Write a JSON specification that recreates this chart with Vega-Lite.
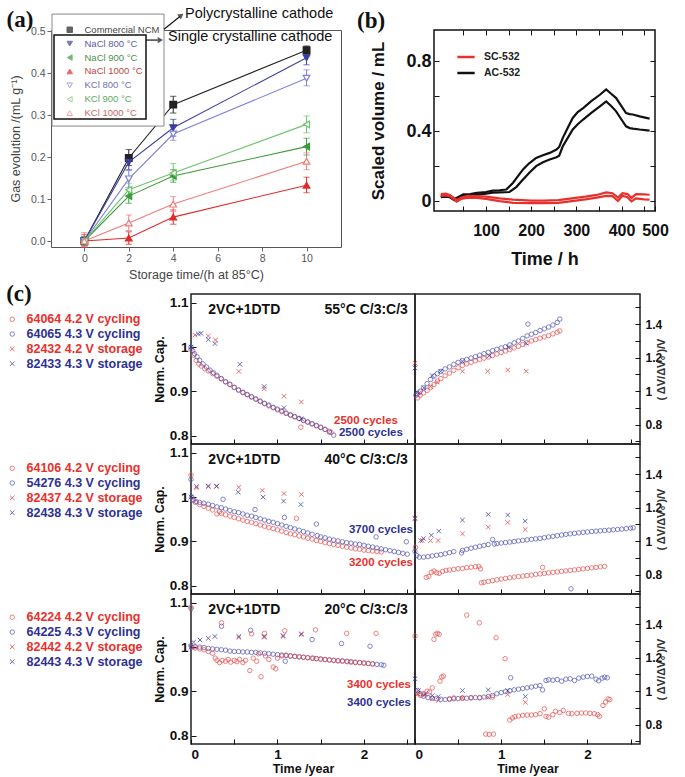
{
"$schema":"https://vega.github.io/schema/vega-lite/v6.json",
"padding":{"left":5,"top":5,"right":2,"bottom":2},
"background":"white",
"config":{"font":"Liberation Sans","view":{"stroke":"#222","strokeWidth":1.5},"axis":{"grid":false,"labelOverlap":false}},
"datasets":{
"a":[
{"series":"Commercial NCM","t":0,"v":0,"lo":-0.01,"hi":0.01},{"series":"Commercial NCM","t":2,"v":0.198,"lo":0.18,"hi":0.218},{"series":"Commercial NCM","t":4,"v":0.325,"lo":0.305,"hi":0.345},{"series":"Commercial NCM","t":10,"v":0.455,"lo":0.445,"hi":0.465},
{"series":"NaCl 800 °C","t":0,"v":0,"lo":-0.01,"hi":0.01},{"series":"NaCl 800 °C","t":2,"v":0.188,"lo":0.17,"hi":0.205},{"series":"NaCl 800 °C","t":4,"v":0.27,"lo":0.25,"hi":0.29},{"series":"NaCl 800 °C","t":10,"v":0.437,"lo":0.42,"hi":0.45},
{"series":"NaCl 900 °C","t":0,"v":0,"lo":-0.01,"hi":0.01},{"series":"NaCl 900 °C","t":2,"v":0.107,"lo":0.09,"hi":0.122},{"series":"NaCl 900 °C","t":4,"v":0.155,"lo":0.14,"hi":0.17},{"series":"NaCl 900 °C","t":10,"v":0.225,"lo":0.205,"hi":0.245},
{"series":"NaCl 1000 °C","t":0,"v":0,"lo":-0.014,"hi":0.015},{"series":"NaCl 1000 °C","t":2,"v":0.007,"lo":-0.008,"hi":0.022},{"series":"NaCl 1000 °C","t":4,"v":0.057,"lo":0.04,"hi":0.074},{"series":"NaCl 1000 °C","t":10,"v":0.133,"lo":0.115,"hi":0.152},
{"series":"KCl 800 °C","t":0,"v":0,"lo":-0.01,"hi":0.01},{"series":"KCl 800 °C","t":2,"v":0.148,"lo":0.128,"hi":0.168},{"series":"KCl 800 °C","t":4,"v":0.255,"lo":0.24,"hi":0.27},{"series":"KCl 800 °C","t":10,"v":0.388,"lo":0.37,"hi":0.408},
{"series":"KCl 900 °C","t":0,"v":0,"lo":-0.01,"hi":0.01},{"series":"KCl 900 °C","t":2,"v":0.122,"lo":0.105,"hi":0.138},{"series":"KCl 900 °C","t":4,"v":0.162,"lo":0.145,"hi":0.185},{"series":"KCl 900 °C","t":10,"v":0.278,"lo":0.258,"hi":0.298},
{"series":"KCl 1000 °C","t":0,"v":0,"lo":-0.014,"hi":0.02},{"series":"KCl 1000 °C","t":2,"v":0.043,"lo":0.025,"hi":0.062},{"series":"KCl 1000 °C","t":4,"v":0.088,"lo":0.07,"hi":0.106},{"series":"KCl 1000 °C","t":10,"v":0.19,"lo":0.17,"hi":0.21}
],
"b":[
{"name":"AC-532","k":"u","t":0,"v":0.03},{"name":"AC-532","k":"u","t":10,"v":0.033},{"name":"AC-532","k":"u","t":20,"v":0.03},{"name":"AC-532","k":"u","t":30,"v":0.012},{"name":"AC-532","k":"u","t":40,"v":0.025},{"name":"AC-532","k":"u","t":50,"v":0.038},{"name":"AC-532","k":"u","t":65,"v":0.04},{"name":"AC-532","k":"u","t":80,"v":0.047},{"name":"AC-532","k":"u","t":100,"v":0.052},{"name":"AC-532","k":"u","t":115,"v":0.06},{"name":"AC-532","k":"u","t":130,"v":0.062},{"name":"AC-532","k":"u","t":145,"v":0.066},{"name":"AC-532","k":"u","t":160,"v":0.105},{"name":"AC-532","k":"u","t":170,"v":0.14},{"name":"AC-532","k":"u","t":182,"v":0.181},{"name":"AC-532","k":"u","t":195,"v":0.215},{"name":"AC-532","k":"u","t":211,"v":0.247},{"name":"AC-532","k":"u","t":226,"v":0.262},{"name":"AC-532","k":"u","t":241,"v":0.276},{"name":"AC-532","k":"u","t":256,"v":0.295},{"name":"AC-532","k":"u","t":262,"v":0.31},{"name":"AC-532","k":"u","t":270,"v":0.362},{"name":"AC-532","k":"u","t":281,"v":0.42},{"name":"AC-532","k":"u","t":292,"v":0.476},{"name":"AC-532","k":"u","t":303,"v":0.51},{"name":"AC-532","k":"u","t":315,"v":0.533},{"name":"AC-532","k":"u","t":333,"v":0.572},{"name":"AC-532","k":"u","t":352,"v":0.609},{"name":"AC-532","k":"u","t":366,"v":0.64},{"name":"AC-532","k":"u","t":377,"v":0.615},{"name":"AC-532","k":"u","t":388,"v":0.59},{"name":"AC-532","k":"u","t":399,"v":0.547},{"name":"AC-532","k":"u","t":410,"v":0.504},{"name":"AC-532","k":"u","t":418,"v":0.498},{"name":"AC-532","k":"u","t":425,"v":0.496},{"name":"AC-532","k":"u","t":440,"v":0.485},{"name":"AC-532","k":"u","t":462,"v":0.472},
{"name":"AC-532","k":"l","t":0,"v":0.022},{"name":"AC-532","k":"l","t":10,"v":0.025},{"name":"AC-532","k":"l","t":20,"v":0.022},{"name":"AC-532","k":"l","t":30,"v":0.005},{"name":"AC-532","k":"l","t":40,"v":0.018},{"name":"AC-532","k":"l","t":50,"v":0.03},{"name":"AC-532","k":"l","t":65,"v":0.032},{"name":"AC-532","k":"l","t":80,"v":0.037},{"name":"AC-532","k":"l","t":100,"v":0.042},{"name":"AC-532","k":"l","t":115,"v":0.048},{"name":"AC-532","k":"l","t":130,"v":0.05},{"name":"AC-532","k":"l","t":152,"v":0.052},{"name":"AC-532","k":"l","t":167,"v":0.08},{"name":"AC-532","k":"l","t":182,"v":0.123},{"name":"AC-532","k":"l","t":197,"v":0.165},{"name":"AC-532","k":"l","t":211,"v":0.2},{"name":"AC-532","k":"l","t":226,"v":0.222},{"name":"AC-532","k":"l","t":241,"v":0.238},{"name":"AC-532","k":"l","t":256,"v":0.251},{"name":"AC-532","k":"l","t":262,"v":0.26},{"name":"AC-532","k":"l","t":270,"v":0.314},{"name":"AC-532","k":"l","t":281,"v":0.362},{"name":"AC-532","k":"l","t":292,"v":0.41},{"name":"AC-532","k":"l","t":303,"v":0.44},{"name":"AC-532","k":"l","t":315,"v":0.467},{"name":"AC-532","k":"l","t":333,"v":0.505},{"name":"AC-532","k":"l","t":352,"v":0.543},{"name":"AC-532","k":"l","t":366,"v":0.571},{"name":"AC-532","k":"l","t":377,"v":0.545},{"name":"AC-532","k":"l","t":388,"v":0.514},{"name":"AC-532","k":"l","t":399,"v":0.47},{"name":"AC-532","k":"l","t":410,"v":0.428},{"name":"AC-532","k":"l","t":418,"v":0.418},{"name":"AC-532","k":"l","t":425,"v":0.415},{"name":"AC-532","k":"l","t":440,"v":0.41},{"name":"AC-532","k":"l","t":462,"v":0.404},
{"name":"SC-532","k":"u","t":0,"v":0.04},{"name":"SC-532","k":"u","t":10,"v":0.042},{"name":"SC-532","k":"u","t":20,"v":0.035},{"name":"SC-532","k":"u","t":28,"v":0.02},{"name":"SC-532","k":"u","t":35,"v":0.005},{"name":"SC-532","k":"u","t":45,"v":0.02},{"name":"SC-532","k":"u","t":60,"v":0.03},{"name":"SC-532","k":"u","t":80,"v":0.028},{"name":"SC-532","k":"u","t":100,"v":0.025},{"name":"SC-532","k":"u","t":130,"v":0.015},{"name":"SC-532","k":"u","t":160,"v":0.008},{"name":"SC-532","k":"u","t":200,"v":0.003},{"name":"SC-532","k":"u","t":230,"v":0.002},{"name":"SC-532","k":"u","t":260,"v":0.005},{"name":"SC-532","k":"u","t":290,"v":0.015},{"name":"SC-532","k":"u","t":320,"v":0.025},{"name":"SC-532","k":"u","t":345,"v":0.035},{"name":"SC-532","k":"u","t":366,"v":0.05},{"name":"SC-532","k":"u","t":380,"v":0.045},{"name":"SC-532","k":"u","t":392,"v":0.02},{"name":"SC-532","k":"u","t":402,"v":0.045},{"name":"SC-532","k":"u","t":413,"v":0.04},{"name":"SC-532","k":"u","t":422,"v":0.018},{"name":"SC-532","k":"u","t":432,"v":0.04},{"name":"SC-532","k":"u","t":450,"v":0.038},{"name":"SC-532","k":"u","t":462,"v":0.036},
{"name":"SC-532","k":"l","t":0,"v":0.03},{"name":"SC-532","k":"l","t":10,"v":0.032},{"name":"SC-532","k":"l","t":20,"v":0.028},{"name":"SC-532","k":"l","t":28,"v":0.012},{"name":"SC-532","k":"l","t":35,"v":-0.003},{"name":"SC-532","k":"l","t":45,"v":0.012},{"name":"SC-532","k":"l","t":60,"v":0.02},{"name":"SC-532","k":"l","t":80,"v":0.018},{"name":"SC-532","k":"l","t":100,"v":0.012},{"name":"SC-532","k":"l","t":130,"v":0.0},{"name":"SC-532","k":"l","t":160,"v":-0.01},{"name":"SC-532","k":"l","t":200,"v":-0.012},{"name":"SC-532","k":"l","t":230,"v":-0.012},{"name":"SC-532","k":"l","t":260,"v":-0.01},{"name":"SC-532","k":"l","t":290,"v":0.0},{"name":"SC-532","k":"l","t":320,"v":0.01},{"name":"SC-532","k":"l","t":345,"v":0.02},{"name":"SC-532","k":"l","t":366,"v":0.03},{"name":"SC-532","k":"l","t":380,"v":0.028},{"name":"SC-532","k":"l","t":392,"v":0.0},{"name":"SC-532","k":"l","t":402,"v":0.03},{"name":"SC-532","k":"l","t":413,"v":0.022},{"name":"SC-532","k":"l","t":422,"v":-0.002},{"name":"SC-532","k":"l","t":432,"v":0.015},{"name":"SC-532","k":"l","t":450,"v":0.01},{"name":"SC-532","k":"l","t":462,"v":0.008}
],
"r1":[
{"p":"L","s":"c42","x":0,"y":0.995},{"p":"L","s":"c42","x":0.03,"y":0.982},{"p":"L","s":"c42","x":0.06,"y":0.97},{"p":"L","s":"c42","x":0.09,"y":0.962},{"p":"L","s":"c42","x":0.12,"y":0.957},{"p":"L","s":"c42","x":0.16,"y":0.951},{"p":"L","s":"c42","x":0.2,"y":0.946},{"p":"L","s":"c42","x":0.25,"y":0.94},{"p":"L","s":"c42","x":0.3,"y":0.934},{"p":"L","s":"c42","x":0.35,"y":0.928},{"p":"L","s":"c42","x":0.4,"y":0.921},{"p":"L","s":"c42","x":0.45,"y":0.915},{"p":"L","s":"c42","x":0.5,"y":0.909},{"p":"L","s":"c42","x":0.55,"y":0.903},{"p":"L","s":"c42","x":0.6,"y":0.897},{"p":"L","s":"c42","x":0.65,"y":0.892},{"p":"L","s":"c42","x":0.7,"y":0.887},{"p":"L","s":"c42","x":0.75,"y":0.882},{"p":"L","s":"c42","x":0.8,"y":0.877},{"p":"L","s":"c42","x":0.85,"y":0.872},{"p":"L","s":"c42","x":0.9,"y":0.867},{"p":"L","s":"c42","x":0.95,"y":0.863},{"p":"L","s":"c42","x":1.0,"y":0.858},{"p":"L","s":"c42","x":1.05,"y":0.854},{"p":"L","s":"c42","x":1.1,"y":0.85},{"p":"L","s":"c42","x":1.15,"y":0.846},{"p":"L","s":"c42","x":1.2,"y":0.842},{"p":"L","s":"c42","x":1.25,"y":0.838},{"p":"L","s":"c42","x":1.27,"y":0.819},{"p":"L","s":"c42","x":1.3,"y":0.834},{"p":"L","s":"c42","x":1.35,"y":0.83},{"p":"L","s":"c42","x":1.4,"y":0.826},{"p":"L","s":"c42","x":1.45,"y":0.822},{"p":"L","s":"c42","x":1.5,"y":0.818},{"p":"L","s":"c42","x":1.55,"y":0.814},{"p":"L","s":"c42","x":1.6,"y":0.81},{"p":"L","s":"c42","x":1.62,"y":0.807},
{"p":"L","s":"c43","x":0,"y":1.0},{"p":"L","s":"c43","x":0.02,"y":0.992},{"p":"L","s":"c43","x":0.04,"y":0.985},{"p":"L","s":"c43","x":0.07,"y":0.978},{"p":"L","s":"c43","x":0.1,"y":0.97},{"p":"L","s":"c43","x":0.14,"y":0.962},{"p":"L","s":"c43","x":0.18,"y":0.955},{"p":"L","s":"c43","x":0.22,"y":0.948},{"p":"L","s":"c43","x":0.26,"y":0.942},{"p":"L","s":"c43","x":0.3,"y":0.936},{"p":"L","s":"c43","x":0.35,"y":0.929},{"p":"L","s":"c43","x":0.4,"y":0.922},{"p":"L","s":"c43","x":0.45,"y":0.916},{"p":"L","s":"c43","x":0.5,"y":0.909},{"p":"L","s":"c43","x":0.55,"y":0.903},{"p":"L","s":"c43","x":0.6,"y":0.898},{"p":"L","s":"c43","x":0.65,"y":0.893},{"p":"L","s":"c43","x":0.7,"y":0.888},{"p":"L","s":"c43","x":0.75,"y":0.883},{"p":"L","s":"c43","x":0.8,"y":0.878},{"p":"L","s":"c43","x":0.85,"y":0.873},{"p":"L","s":"c43","x":0.9,"y":0.869},{"p":"L","s":"c43","x":0.95,"y":0.864},{"p":"L","s":"c43","x":1.0,"y":0.86},{"p":"L","s":"c43","x":1.05,"y":0.856},{"p":"L","s":"c43","x":1.1,"y":0.851},{"p":"L","s":"c43","x":1.15,"y":0.847},{"p":"L","s":"c43","x":1.2,"y":0.843},{"p":"L","s":"c43","x":1.25,"y":0.839},{"p":"L","s":"c43","x":1.3,"y":0.835},{"p":"L","s":"c43","x":1.35,"y":0.831},{"p":"L","s":"c43","x":1.4,"y":0.827},{"p":"L","s":"c43","x":1.45,"y":0.823},{"p":"L","s":"c43","x":1.5,"y":0.819},{"p":"L","s":"c43","x":1.55,"y":0.814},{"p":"L","s":"c43","x":1.6,"y":0.808},{"p":"L","s":"c43","x":1.65,"y":0.801},
{"p":"L","s":"s42","x":0.046,"y":1.027},{"p":"L","s":"s42","x":0.2,"y":1.025},{"p":"L","s":"s42","x":0.284,"y":1.016},{"p":"L","s":"s42","x":0.554,"y":0.945},{"p":"L","s":"s42","x":0.846,"y":0.906},{"p":"L","s":"s42","x":1.076,"y":0.889},{"p":"L","s":"s42","x":1.276,"y":0.876},
{"p":"L","s":"s43","x":0,"y":1.0},{"p":"L","s":"s43","x":0.084,"y":1.03},{"p":"L","s":"s43","x":0.115,"y":1.031},{"p":"L","s":"s43","x":0.2,"y":1.017},{"p":"L","s":"s43","x":0.277,"y":1.008},{"p":"L","s":"s43","x":0.565,"y":0.961},{"p":"L","s":"s43","x":0.846,"y":0.911},{"p":"L","s":"s43","x":1.076,"y":0.863},{"p":"L","s":"s43","x":1.276,"y":0.838},
{"p":"R","s":"c42","x":0.03,"y":0.96},{"p":"R","s":"c42","x":0.06,"y":0.975},{"p":"R","s":"c42","x":0.1,"y":0.99},{"p":"R","s":"c42","x":0.14,"y":1.005},{"p":"R","s":"c42","x":0.18,"y":1.022},{"p":"R","s":"c42","x":0.22,"y":1.04},{"p":"R","s":"c42","x":0.26,"y":1.06},{"p":"R","s":"c42","x":0.3,"y":1.075},{"p":"R","s":"c42","x":0.35,"y":1.092},{"p":"R","s":"c42","x":0.4,"y":1.108},{"p":"R","s":"c42","x":0.45,"y":1.125},{"p":"R","s":"c42","x":0.5,"y":1.14},{"p":"R","s":"c42","x":0.55,"y":1.153},{"p":"R","s":"c42","x":0.6,"y":1.163},{"p":"R","s":"c42","x":0.65,"y":1.172},{"p":"R","s":"c42","x":0.7,"y":1.181},{"p":"R","s":"c42","x":0.75,"y":1.19},{"p":"R","s":"c42","x":0.8,"y":1.197},{"p":"R","s":"c42","x":0.85,"y":1.204},{"p":"R","s":"c42","x":0.9,"y":1.213},{"p":"R","s":"c42","x":0.95,"y":1.222},{"p":"R","s":"c42","x":1.0,"y":1.231},{"p":"R","s":"c42","x":1.05,"y":1.24},{"p":"R","s":"c42","x":1.1,"y":1.248},{"p":"R","s":"c42","x":1.15,"y":1.258},{"p":"R","s":"c42","x":1.2,"y":1.268},{"p":"R","s":"c42","x":1.25,"y":1.278},{"p":"R","s":"c42","x":1.3,"y":1.29},{"p":"R","s":"c42","x":1.35,"y":1.3},{"p":"R","s":"c42","x":1.4,"y":1.308},{"p":"R","s":"c42","x":1.45,"y":1.316},{"p":"R","s":"c42","x":1.5,"y":1.324},{"p":"R","s":"c42","x":1.55,"y":1.332},{"p":"R","s":"c42","x":1.6,"y":1.342},{"p":"R","s":"c42","x":1.65,"y":1.352},{"p":"R","s":"c42","x":1.68,"y":1.36},
{"p":"R","s":"c43","x":0.01,"y":0.975},{"p":"R","s":"c43","x":0.03,"y":0.985},{"p":"R","s":"c43","x":0.06,"y":1.0},{"p":"R","s":"c43","x":0.1,"y":1.02},{"p":"R","s":"c43","x":0.14,"y":1.045},{"p":"R","s":"c43","x":0.18,"y":1.07},{"p":"R","s":"c43","x":0.22,"y":1.09},{"p":"R","s":"c43","x":0.26,"y":1.105},{"p":"R","s":"c43","x":0.3,"y":1.118},{"p":"R","s":"c43","x":0.35,"y":1.133},{"p":"R","s":"c43","x":0.4,"y":1.145},{"p":"R","s":"c43","x":0.45,"y":1.16},{"p":"R","s":"c43","x":0.5,"y":1.172},{"p":"R","s":"c43","x":0.55,"y":1.183},{"p":"R","s":"c43","x":0.6,"y":1.19},{"p":"R","s":"c43","x":0.65,"y":1.198},{"p":"R","s":"c43","x":0.7,"y":1.206},{"p":"R","s":"c43","x":0.75,"y":1.215},{"p":"R","s":"c43","x":0.8,"y":1.224},{"p":"R","s":"c43","x":0.85,"y":1.232},{"p":"R","s":"c43","x":0.9,"y":1.242},{"p":"R","s":"c43","x":0.95,"y":1.25},{"p":"R","s":"c43","x":1.0,"y":1.258},{"p":"R","s":"c43","x":1.05,"y":1.266},{"p":"R","s":"c43","x":1.1,"y":1.276},{"p":"R","s":"c43","x":1.15,"y":1.288},{"p":"R","s":"c43","x":1.2,"y":1.3},{"p":"R","s":"c43","x":1.25,"y":1.315},{"p":"R","s":"c43","x":1.3,"y":1.33},{"p":"R","s":"c43","x":1.31,"y":1.4},{"p":"R","s":"c43","x":1.35,"y":1.34},{"p":"R","s":"c43","x":1.4,"y":1.35},{"p":"R","s":"c43","x":1.45,"y":1.362},{"p":"R","s":"c43","x":1.5,"y":1.372},{"p":"R","s":"c43","x":1.55,"y":1.383},{"p":"R","s":"c43","x":1.6,"y":1.395},{"p":"R","s":"c43","x":1.65,"y":1.41},{"p":"R","s":"c43","x":1.68,"y":1.43},
{"p":"R","s":"s42","x":0,"y":1.167},{"p":"R","s":"s42","x":0.05,"y":0.99},{"p":"R","s":"s42","x":0.18,"y":1.028},{"p":"R","s":"s42","x":0.26,"y":1.054},{"p":"R","s":"s42","x":0.551,"y":1.119},{"p":"R","s":"s42","x":0.843,"y":1.119},{"p":"R","s":"s42","x":1.076,"y":1.127},{"p":"R","s":"s42","x":1.29,"y":1.119},
{"p":"R","s":"s43","x":0,"y":1.139},{"p":"R","s":"s43","x":0.027,"y":0.994},{"p":"R","s":"s43","x":0.104,"y":1.02},{"p":"R","s":"s43","x":0.2,"y":1.093},{"p":"R","s":"s43","x":0.298,"y":1.119},{"p":"R","s":"s43","x":0.551,"y":1.179},{"p":"R","s":"s43","x":0.862,"y":1.212},{"p":"R","s":"s43","x":1.083,"y":1.262},{"p":"R","s":"s43","x":1.29,"y":1.286}
],
"r2":[
{"p":"L","s":"c42","x":0,"y":1.05},{"p":"L","s":"c42","x":0.02,"y":0.995},{"p":"L","s":"c42","x":0.05,"y":0.988},{"p":"L","s":"c42","x":0.1,"y":0.983},{"p":"L","s":"c42","x":0.15,"y":0.979},{"p":"L","s":"c42","x":0.2,"y":0.975},{"p":"L","s":"c42","x":0.25,"y":0.971},{"p":"L","s":"c42","x":0.3,"y":0.962},{"p":"L","s":"c42","x":0.33,"y":0.967},{"p":"L","s":"c42","x":0.35,"y":0.963},{"p":"L","s":"c42","x":0.4,"y":0.96},{"p":"L","s":"c42","x":0.45,"y":0.957},{"p":"L","s":"c42","x":0.5,"y":0.954},{"p":"L","s":"c42","x":0.55,"y":0.951},{"p":"L","s":"c42","x":0.6,"y":0.948},{"p":"L","s":"c42","x":0.65,"y":0.945},{"p":"L","s":"c42","x":0.7,"y":0.943},{"p":"L","s":"c42","x":0.75,"y":0.94},{"p":"L","s":"c42","x":0.8,"y":0.937},{"p":"L","s":"c42","x":0.85,"y":0.934},{"p":"L","s":"c42","x":0.9,"y":0.931},{"p":"L","s":"c42","x":0.95,"y":0.929},{"p":"L","s":"c42","x":1.0,"y":0.926},{"p":"L","s":"c42","x":1.05,"y":0.923},{"p":"L","s":"c42","x":1.1,"y":0.92},{"p":"L","s":"c42","x":1.15,"y":0.917},{"p":"L","s":"c42","x":1.2,"y":0.915},{"p":"L","s":"c42","x":1.22,"y":0.952},{"p":"L","s":"c42","x":1.25,"y":0.912},{"p":"L","s":"c42","x":1.3,"y":0.91},{"p":"L","s":"c42","x":1.35,"y":0.907},{"p":"L","s":"c42","x":1.4,"y":0.905},{"p":"L","s":"c42","x":1.45,"y":0.902},{"p":"L","s":"c42","x":1.5,"y":0.9},{"p":"L","s":"c42","x":1.55,"y":0.897},{"p":"L","s":"c42","x":1.6,"y":0.895},{"p":"L","s":"c42","x":1.65,"y":0.893},{"p":"L","s":"c42","x":1.7,"y":0.891},{"p":"L","s":"c42","x":1.75,"y":0.889},{"p":"L","s":"c42","x":1.8,"y":0.887},{"p":"L","s":"c42","x":1.85,"y":0.885},{"p":"L","s":"c42","x":1.9,"y":0.883},{"p":"L","s":"c42","x":1.95,"y":0.882},{"p":"L","s":"c42","x":2.0,"y":0.88},{"p":"L","s":"c42","x":2.05,"y":0.879},{"p":"L","s":"c42","x":2.1,"y":0.878},{"p":"L","s":"c42","x":2.15,"y":0.877},{"p":"L","s":"c42","x":2.2,"y":0.876},
{"p":"L","s":"c43","x":0,"y":1.04},{"p":"L","s":"c43","x":0.01,"y":1.0},{"p":"L","s":"c43","x":0.03,"y":0.993},{"p":"L","s":"c43","x":0.06,"y":0.99},{"p":"L","s":"c43","x":0.1,"y":0.988},{"p":"L","s":"c43","x":0.15,"y":0.986},{"p":"L","s":"c43","x":0.2,"y":0.984},{"p":"L","s":"c43","x":0.25,"y":0.981},{"p":"L","s":"c43","x":0.3,"y":0.978},{"p":"L","s":"c43","x":0.35,"y":0.976},{"p":"L","s":"c43","x":0.37,"y":0.995},{"p":"L","s":"c43","x":0.4,"y":0.973},{"p":"L","s":"c43","x":0.45,"y":0.97},{"p":"L","s":"c43","x":0.5,"y":0.967},{"p":"L","s":"c43","x":0.55,"y":0.965},{"p":"L","s":"c43","x":0.6,"y":0.962},{"p":"L","s":"c43","x":0.65,"y":0.959},{"p":"L","s":"c43","x":0.7,"y":0.957},{"p":"L","s":"c43","x":0.74,"y":0.972},{"p":"L","s":"c43","x":0.75,"y":0.954},{"p":"L","s":"c43","x":0.8,"y":0.951},{"p":"L","s":"c43","x":0.85,"y":0.948},{"p":"L","s":"c43","x":0.9,"y":0.945},{"p":"L","s":"c43","x":0.95,"y":0.943},{"p":"L","s":"c43","x":1.0,"y":0.94},{"p":"L","s":"c43","x":1.05,"y":0.937},{"p":"L","s":"c43","x":1.08,"y":0.954},{"p":"L","s":"c43","x":1.1,"y":0.934},{"p":"L","s":"c43","x":1.15,"y":0.931},{"p":"L","s":"c43","x":1.2,"y":0.928},{"p":"L","s":"c43","x":1.25,"y":0.925},{"p":"L","s":"c43","x":1.3,"y":0.922},{"p":"L","s":"c43","x":1.35,"y":0.919},{"p":"L","s":"c43","x":1.4,"y":0.916},{"p":"L","s":"c43","x":1.45,"y":0.939},{"p":"L","s":"c43","x":1.46,"y":0.913},{"p":"L","s":"c43","x":1.5,"y":0.91},{"p":"L","s":"c43","x":1.55,"y":0.908},{"p":"L","s":"c43","x":1.6,"y":0.905},{"p":"L","s":"c43","x":1.65,"y":0.903},{"p":"L","s":"c43","x":1.7,"y":0.901},{"p":"L","s":"c43","x":1.75,"y":0.899},{"p":"L","s":"c43","x":1.8,"y":0.897},{"p":"L","s":"c43","x":1.85,"y":0.896},{"p":"L","s":"c43","x":1.9,"y":0.894},{"p":"L","s":"c43","x":1.95,"y":0.893},{"p":"L","s":"c43","x":2.0,"y":0.891},{"p":"L","s":"c43","x":2.05,"y":0.889},{"p":"L","s":"c43","x":2.1,"y":0.887},{"p":"L","s":"c43","x":2.14,"y":0.91},{"p":"L","s":"c43","x":2.15,"y":0.885},{"p":"L","s":"c43","x":2.2,"y":0.883},{"p":"L","s":"c43","x":2.25,"y":0.881},{"p":"L","s":"c43","x":2.3,"y":0.879},{"p":"L","s":"c43","x":2.35,"y":0.877},{"p":"L","s":"c43","x":2.4,"y":0.875},{"p":"L","s":"c43","x":2.45,"y":0.873},{"p":"L","s":"c43","x":2.49,"y":0.899},{"p":"L","s":"c43","x":2.5,"y":0.871},
{"p":"L","s":"s42","x":0.065,"y":1.021},{"p":"L","s":"s42","x":0.2,"y":1.024},{"p":"L","s":"s42","x":0.296,"y":1.024},{"p":"L","s":"s42","x":0.553,"y":1.022},{"p":"L","s":"s42","x":0.823,"y":1.015},{"p":"L","s":"s42","x":1.076,"y":1.008},{"p":"L","s":"s42","x":1.276,"y":1.006},
{"p":"L","s":"s43","x":0,"y":1.0},{"p":"L","s":"s43","x":0.065,"y":1.024},{"p":"L","s":"s43","x":0.2,"y":1.025},{"p":"L","s":"s43","x":0.296,"y":1.025},{"p":"L","s":"s43","x":0.546,"y":1.011},{"p":"L","s":"s43","x":0.834,"y":1.0},{"p":"L","s":"s43","x":1.07,"y":0.991},{"p":"L","s":"s43","x":1.27,"y":0.983},
{"p":"R","s":"c42","x":0.005,"y":0.964},{"p":"R","s":"c42","x":0.13,"y":0.784},{"p":"R","s":"c42","x":0.16,"y":0.79},{"p":"R","s":"c42","x":0.19,"y":0.815},{"p":"R","s":"c42","x":0.22,"y":0.822},{"p":"R","s":"c42","x":0.25,"y":0.812},{"p":"R","s":"c42","x":0.28,"y":0.808},{"p":"R","s":"c42","x":0.32,"y":0.82},{"p":"R","s":"c42","x":0.36,"y":0.826},{"p":"R","s":"c42","x":0.4,"y":0.828},{"p":"R","s":"c42","x":0.45,"y":0.832},{"p":"R","s":"c42","x":0.5,"y":0.836},{"p":"R","s":"c42","x":0.55,"y":0.838},{"p":"R","s":"c42","x":0.6,"y":0.842},{"p":"R","s":"c42","x":0.65,"y":0.845},{"p":"R","s":"c42","x":0.7,"y":0.848},{"p":"R","s":"c42","x":0.74,"y":0.85},{"p":"R","s":"c42","x":0.76,"y":0.835},{"p":"R","s":"c42","x":0.77,"y":0.752},{"p":"R","s":"c42","x":0.8,"y":0.755},{"p":"R","s":"c42","x":0.85,"y":0.76},{"p":"R","s":"c42","x":0.9,"y":0.765},{"p":"R","s":"c42","x":0.95,"y":0.77},{"p":"R","s":"c42","x":1.0,"y":0.774},{"p":"R","s":"c42","x":1.05,"y":0.778},{"p":"R","s":"c42","x":1.1,"y":0.782},{"p":"R","s":"c42","x":1.15,"y":0.786},{"p":"R","s":"c42","x":1.2,"y":0.789},{"p":"R","s":"c42","x":1.25,"y":0.792},{"p":"R","s":"c42","x":1.3,"y":0.795},{"p":"R","s":"c42","x":1.35,"y":0.798},{"p":"R","s":"c42","x":1.4,"y":0.802},{"p":"R","s":"c42","x":1.45,"y":0.805},{"p":"R","s":"c42","x":1.48,"y":0.844},{"p":"R","s":"c42","x":1.5,"y":0.808},{"p":"R","s":"c42","x":1.55,"y":0.811},{"p":"R","s":"c42","x":1.6,"y":0.814},{"p":"R","s":"c42","x":1.65,"y":0.817},{"p":"R","s":"c42","x":1.7,"y":0.82},{"p":"R","s":"c42","x":1.75,"y":0.823},{"p":"R","s":"c42","x":1.8,"y":0.826},{"p":"R","s":"c42","x":1.85,"y":0.829},{"p":"R","s":"c42","x":1.9,"y":0.832},{"p":"R","s":"c42","x":1.95,"y":0.835},{"p":"R","s":"c42","x":2.0,"y":0.838},{"p":"R","s":"c42","x":2.05,"y":0.841},{"p":"R","s":"c42","x":2.1,"y":0.844},{"p":"R","s":"c42","x":2.15,"y":0.847},{"p":"R","s":"c42","x":2.2,"y":0.85},
{"p":"R","s":"c43","x":0,"y":0.94},{"p":"R","s":"c43","x":0.02,"y":0.915},{"p":"R","s":"c43","x":0.05,"y":0.905},{"p":"R","s":"c43","x":0.1,"y":0.905},{"p":"R","s":"c43","x":0.15,"y":0.908},{"p":"R","s":"c43","x":0.2,"y":0.912},{"p":"R","s":"c43","x":0.25,"y":0.916},{"p":"R","s":"c43","x":0.3,"y":0.92},{"p":"R","s":"c43","x":0.35,"y":0.925},{"p":"R","s":"c43","x":0.4,"y":0.932},{"p":"R","s":"c43","x":0.45,"y":0.938},{"p":"R","s":"c43","x":0.54,"y":0.93},{"p":"R","s":"c43","x":0.55,"y":0.945},{"p":"R","s":"c43","x":0.6,"y":0.952},{"p":"R","s":"c43","x":0.65,"y":0.958},{"p":"R","s":"c43","x":0.7,"y":0.964},{"p":"R","s":"c43","x":0.75,"y":0.97},{"p":"R","s":"c43","x":0.8,"y":0.975},{"p":"R","s":"c43","x":0.85,"y":0.98},{"p":"R","s":"c43","x":0.9,"y":1.01},{"p":"R","s":"c43","x":0.92,"y":0.983},{"p":"R","s":"c43","x":0.95,"y":0.986},{"p":"R","s":"c43","x":1.0,"y":0.989},{"p":"R","s":"c43","x":1.05,"y":0.992},{"p":"R","s":"c43","x":1.1,"y":0.995},{"p":"R","s":"c43","x":1.15,"y":0.998},{"p":"R","s":"c43","x":1.2,"y":1.002},{"p":"R","s":"c43","x":1.25,"y":1.005},{"p":"R","s":"c43","x":1.3,"y":1.008},{"p":"R","s":"c43","x":1.35,"y":1.011},{"p":"R","s":"c43","x":1.4,"y":1.014},{"p":"R","s":"c43","x":1.45,"y":1.017},{"p":"R","s":"c43","x":1.5,"y":1.021},{"p":"R","s":"c43","x":1.55,"y":1.025},{"p":"R","s":"c43","x":1.6,"y":1.029},{"p":"R","s":"c43","x":1.65,"y":1.033},{"p":"R","s":"c43","x":1.7,"y":1.037},{"p":"R","s":"c43","x":1.75,"y":1.041},{"p":"R","s":"c43","x":1.8,"y":1.044},{"p":"R","s":"c43","x":1.81,"y":0.716},{"p":"R","s":"c43","x":1.85,"y":1.047},{"p":"R","s":"c43","x":1.9,"y":1.05},{"p":"R","s":"c43","x":1.95,"y":1.053},{"p":"R","s":"c43","x":2.0,"y":1.055},{"p":"R","s":"c43","x":2.05,"y":1.058},{"p":"R","s":"c43","x":2.1,"y":1.06},{"p":"R","s":"c43","x":2.15,"y":1.062},{"p":"R","s":"c43","x":2.2,"y":1.064},{"p":"R","s":"c43","x":2.25,"y":1.066},{"p":"R","s":"c43","x":2.3,"y":1.068},{"p":"R","s":"c43","x":2.35,"y":1.07},{"p":"R","s":"c43","x":2.4,"y":1.072},{"p":"R","s":"c43","x":2.45,"y":1.075},{"p":"R","s":"c43","x":2.5,"y":1.078},{"p":"R","s":"c43","x":2.53,"y":1.08},
{"p":"R","s":"s42","x":0,"y":1.136},{"p":"R","s":"s42","x":0.085,"y":1.004},{"p":"R","s":"s42","x":0.18,"y":1.004},{"p":"R","s":"s42","x":0.268,"y":1.004},{"p":"R","s":"s42","x":0.551,"y":1.044},{"p":"R","s":"s42","x":0.85,"y":1.084},{"p":"R","s":"s42","x":1.076,"y":1.112},{"p":"R","s":"s42","x":1.278,"y":1.07},
{"p":"R","s":"s43","x":0,"y":1.136},{"p":"R","s":"s43","x":0.066,"y":1.004},{"p":"R","s":"s43","x":0.1,"y":1.016},{"p":"R","s":"s43","x":0.19,"y":1.036},{"p":"R","s":"s43","x":0.276,"y":1.06},{"p":"R","s":"s43","x":0.551,"y":1.126},{"p":"R","s":"s43","x":0.85,"y":1.16},{"p":"R","s":"s43","x":1.076,"y":1.156},{"p":"R","s":"s43","x":1.278,"y":1.12}
],
"r3":[
{"p":"L","s":"c43","x":0,"y":1.087},{"p":"L","s":"c43","x":0,"y":1.003},{"p":"L","s":"c43","x":0.05,"y":1.001},{"p":"L","s":"c43","x":0.1,"y":1.0},{"p":"L","s":"c43","x":0.15,"y":0.999},{"p":"L","s":"c43","x":0.2,"y":0.997},{"p":"L","s":"c43","x":0.25,"y":0.996},{"p":"L","s":"c43","x":0.3,"y":0.995},{"p":"L","s":"c43","x":0.35,"y":0.994},{"p":"L","s":"c43","x":0.353,"y":1.047},{"p":"L","s":"c43","x":0.4,"y":0.993},{"p":"L","s":"c43","x":0.45,"y":0.991},{"p":"L","s":"c43","x":0.5,"y":0.99},{"p":"L","s":"c43","x":0.55,"y":0.99},{"p":"L","s":"c43","x":0.6,"y":0.989},{"p":"L","s":"c43","x":0.65,"y":0.989},{"p":"L","s":"c43","x":0.69,"y":1.038},{"p":"L","s":"c43","x":0.7,"y":0.988},{"p":"L","s":"c43","x":0.75,"y":0.988},{"p":"L","s":"c43","x":0.8,"y":0.987},{"p":"L","s":"c43","x":0.85,"y":0.986},{"p":"L","s":"c43","x":0.9,"y":0.985},{"p":"L","s":"c43","x":0.95,"y":0.984},{"p":"L","s":"c43","x":1.0,"y":0.983},{"p":"L","s":"c43","x":1.05,"y":0.982},{"p":"L","s":"c43","x":1.09,"y":0.968},{"p":"L","s":"c43","x":1.1,"y":0.981},{"p":"L","s":"c43","x":1.15,"y":0.98},{"p":"L","s":"c43","x":1.2,"y":0.979},{"p":"L","s":"c43","x":1.25,"y":0.978},{"p":"L","s":"c43","x":1.3,"y":0.977},{"p":"L","s":"c43","x":1.35,"y":0.976},{"p":"L","s":"c43","x":1.4,"y":1.017},{"p":"L","s":"c43","x":1.41,"y":0.975},{"p":"L","s":"c43","x":1.45,"y":0.974},{"p":"L","s":"c43","x":1.5,"y":0.973},{"p":"L","s":"c43","x":1.55,"y":0.972},{"p":"L","s":"c43","x":1.6,"y":0.971},{"p":"L","s":"c43","x":1.65,"y":0.97},{"p":"L","s":"c43","x":1.7,"y":0.969},{"p":"L","s":"c43","x":1.74,"y":1.008},{"p":"L","s":"c43","x":1.75,"y":0.969},{"p":"L","s":"c43","x":1.8,"y":0.968},{"p":"L","s":"c43","x":1.85,"y":0.967},{"p":"L","s":"c43","x":1.9,"y":0.966},{"p":"L","s":"c43","x":1.95,"y":0.965},{"p":"L","s":"c43","x":2.0,"y":0.964},{"p":"L","s":"c43","x":2.05,"y":0.963},{"p":"L","s":"c43","x":2.07,"y":1.002},{"p":"L","s":"c43","x":2.1,"y":0.962},{"p":"L","s":"c43","x":2.15,"y":0.961},{"p":"L","s":"c43","x":2.2,"y":0.96},{"p":"L","s":"c43","x":2.23,"y":0.959},
{"p":"L","s":"c42","x":0,"y":1.09},{"p":"L","s":"c42","x":0.01,"y":1.0},{"p":"L","s":"c42","x":0.05,"y":0.998},{"p":"L","s":"c42","x":0.1,"y":0.996},{"p":"L","s":"c42","x":0.15,"y":0.994},{"p":"L","s":"c42","x":0.2,"y":0.99},{"p":"L","s":"c42","x":0.25,"y":0.986},{"p":"L","s":"c42","x":0.28,"y":0.975},{"p":"L","s":"c42","x":0.3,"y":0.97},{"p":"L","s":"c42","x":0.33,"y":0.965},{"p":"L","s":"c42","x":0.353,"y":1.055},{"p":"L","s":"c42","x":0.36,"y":0.97},{"p":"L","s":"c42","x":0.4,"y":0.968},{"p":"L","s":"c42","x":0.43,"y":0.972},{"p":"L","s":"c42","x":0.46,"y":0.966},{"p":"L","s":"c42","x":0.5,"y":0.97},{"p":"L","s":"c42","x":0.53,"y":0.967},{"p":"L","s":"c42","x":0.56,"y":0.972},{"p":"L","s":"c42","x":0.6,"y":0.965},{"p":"L","s":"c42","x":0.63,"y":0.97},{"p":"L","s":"c42","x":0.68,"y":0.947},{"p":"L","s":"c42","x":0.7,"y":1.03},{"p":"L","s":"c42","x":0.72,"y":0.975},{"p":"L","s":"c42","x":0.76,"y":0.968},{"p":"L","s":"c42","x":0.78,"y":0.985},{"p":"L","s":"c42","x":0.81,"y":0.933},{"p":"L","s":"c42","x":0.85,"y":1.031},{"p":"L","s":"c42","x":0.86,"y":0.98},{"p":"L","s":"c42","x":0.9,"y":0.972},{"p":"L","s":"c42","x":0.95,"y":0.955},{"p":"L","s":"c42","x":0.98,"y":0.951},{"p":"L","s":"c42","x":1.0,"y":0.975},{"p":"L","s":"c42","x":1.05,"y":0.98},{"p":"L","s":"c42","x":1.084,"y":1.037},{"p":"L","s":"c42","x":1.1,"y":0.982},{"p":"L","s":"c42","x":1.15,"y":0.98},{"p":"L","s":"c42","x":1.2,"y":0.979},{"p":"L","s":"c42","x":1.25,"y":0.978},{"p":"L","s":"c42","x":1.3,"y":0.977},{"p":"L","s":"c42","x":1.35,"y":0.976},{"p":"L","s":"c42","x":1.4,"y":0.975},{"p":"L","s":"c42","x":1.44,"y":1.039},{"p":"L","s":"c42","x":1.45,"y":0.974},{"p":"L","s":"c42","x":1.5,"y":0.973},{"p":"L","s":"c42","x":1.55,"y":0.972},{"p":"L","s":"c42","x":1.6,"y":0.971},{"p":"L","s":"c42","x":1.65,"y":0.97},{"p":"L","s":"c42","x":1.7,"y":0.969},{"p":"L","s":"c42","x":1.75,"y":0.968},{"p":"L","s":"c42","x":1.8,"y":1.031},{"p":"L","s":"c42","x":1.81,"y":0.967},{"p":"L","s":"c42","x":1.85,"y":0.966},{"p":"L","s":"c42","x":1.9,"y":0.965},{"p":"L","s":"c42","x":1.95,"y":0.965},{"p":"L","s":"c42","x":2.0,"y":0.964},{"p":"L","s":"c42","x":2.05,"y":0.963},{"p":"L","s":"c42","x":2.1,"y":0.962},{"p":"L","s":"c42","x":2.14,"y":1.031},
{"p":"L","s":"s42","x":0.553,"y":1.022},{"p":"L","s":"s42","x":0.846,"y":1.022},{"p":"L","s":"s42","x":1.065,"y":1.024},{"p":"L","s":"s42","x":1.276,"y":1.028},
{"p":"L","s":"s43","x":0,"y":1.0},{"p":"L","s":"s43","x":0.03,"y":1.011},{"p":"L","s":"s43","x":0.104,"y":1.016},{"p":"L","s":"s43","x":0.2,"y":1.02},{"p":"L","s":"s43","x":0.277,"y":1.024},{"p":"L","s":"s43","x":0.553,"y":1.024},{"p":"L","s":"s43","x":0.846,"y":1.024},{"p":"L","s":"s43","x":1.065,"y":1.026},{"p":"L","s":"s43","x":1.276,"y":1.03},
{"p":"R","s":"c43","x":0.03,"y":1.004},{"p":"R","s":"c43","x":0.06,"y":0.985},{"p":"R","s":"c43","x":0.1,"y":0.97},{"p":"R","s":"c43","x":0.15,"y":0.962},{"p":"R","s":"c43","x":0.2,"y":0.958},{"p":"R","s":"c43","x":0.25,"y":0.955},{"p":"R","s":"c43","x":0.3,"y":0.952},{"p":"R","s":"c43","x":0.35,"y":0.95},{"p":"R","s":"c43","x":0.4,"y":0.952},{"p":"R","s":"c43","x":0.45,"y":0.955},{"p":"R","s":"c43","x":0.5,"y":0.956},{"p":"R","s":"c43","x":0.55,"y":0.958},{"p":"R","s":"c43","x":0.6,"y":0.958},{"p":"R","s":"c43","x":0.65,"y":0.96},{"p":"R","s":"c43","x":0.7,"y":0.962},{"p":"R","s":"c43","x":0.75,"y":0.962},{"p":"R","s":"c43","x":0.8,"y":0.965},{"p":"R","s":"c43","x":0.85,"y":0.968},{"p":"R","s":"c43","x":0.9,"y":0.975},{"p":"R","s":"c43","x":0.95,"y":0.985},{"p":"R","s":"c43","x":1.0,"y":0.992},{"p":"R","s":"c43","x":1.05,"y":0.998},{"p":"R","s":"c43","x":1.1,"y":1.003},{"p":"R","s":"c43","x":1.11,"y":1.08},{"p":"R","s":"c43","x":1.15,"y":1.008},{"p":"R","s":"c43","x":1.2,"y":1.012},{"p":"R","s":"c43","x":1.25,"y":1.016},{"p":"R","s":"c43","x":1.3,"y":1.02},{"p":"R","s":"c43","x":1.35,"y":1.025},{"p":"R","s":"c43","x":1.4,"y":1.03},{"p":"R","s":"c43","x":1.45,"y":1.034},{"p":"R","s":"c43","x":1.48,"y":1.008},{"p":"R","s":"c43","x":1.52,"y":1.064},{"p":"R","s":"c43","x":1.55,"y":1.068},{"p":"R","s":"c43","x":1.6,"y":1.066},{"p":"R","s":"c43","x":1.65,"y":1.07},{"p":"R","s":"c43","x":1.7,"y":1.06},{"p":"R","s":"c43","x":1.75,"y":1.072},{"p":"R","s":"c43","x":1.8,"y":1.074},{"p":"R","s":"c43","x":1.85,"y":1.064},{"p":"R","s":"c43","x":1.9,"y":1.078},{"p":"R","s":"c43","x":1.95,"y":1.084},{"p":"R","s":"c43","x":2.0,"y":1.088},{"p":"R","s":"c43","x":2.05,"y":1.09},{"p":"R","s":"c43","x":2.1,"y":1.072},{"p":"R","s":"c43","x":2.13,"y":1.062},{"p":"R","s":"c43","x":2.17,"y":1.078},{"p":"R","s":"c43","x":2.2,"y":1.084},{"p":"R","s":"c43","x":2.23,"y":1.08},
{"p":"R","s":"c42","x":0,"y":1.328},{"p":"R","s":"c42","x":0.03,"y":0.99},{"p":"R","s":"c42","x":0.06,"y":0.975},{"p":"R","s":"c42","x":0.1,"y":0.985},{"p":"R","s":"c42","x":0.14,"y":1.0},{"p":"R","s":"c42","x":0.17,"y":0.995},{"p":"R","s":"c42","x":0.2,"y":1.02},{"p":"R","s":"c42","x":0.22,"y":1.31},{"p":"R","s":"c42","x":0.24,"y":1.34},{"p":"R","s":"c42","x":0.26,"y":1.345},{"p":"R","s":"c42","x":0.28,"y":1.34},{"p":"R","s":"c42","x":0.29,"y":1.06},{"p":"R","s":"c42","x":0.31,"y":1.085},{"p":"R","s":"c42","x":0.33,"y":1.09},{"p":"R","s":"c42","x":0.4,"y":0.955},{"p":"R","s":"c42","x":0.45,"y":0.96},{"p":"R","s":"c42","x":0.55,"y":0.96},{"p":"R","s":"c42","x":0.6,"y":1.454},{"p":"R","s":"c42","x":0.65,"y":0.962},{"p":"R","s":"c42","x":0.746,"y":1.408},{"p":"R","s":"c42","x":0.75,"y":0.96},{"p":"R","s":"c42","x":0.82,"y":0.744},{"p":"R","s":"c42","x":0.86,"y":0.742},{"p":"R","s":"c42","x":0.91,"y":0.744},{"p":"R","s":"c42","x":0.94,"y":1.319},{"p":"R","s":"c42","x":0.9,"y":0.965},{"p":"R","s":"c42","x":1.045,"y":1.194},{"p":"R","s":"c42","x":1.1,"y":0.828},{"p":"R","s":"c42","x":1.13,"y":0.84},{"p":"R","s":"c42","x":1.16,"y":0.848},{"p":"R","s":"c42","x":1.2,"y":0.852},{"p":"R","s":"c42","x":1.25,"y":0.856},{"p":"R","s":"c42","x":1.3,"y":0.858},{"p":"R","s":"c42","x":1.35,"y":0.858},{"p":"R","s":"c42","x":1.4,"y":0.86},{"p":"R","s":"c42","x":1.45,"y":0.866},{"p":"R","s":"c42","x":1.5,"y":0.895},{"p":"R","s":"c42","x":1.52,"y":0.85},{"p":"R","s":"c42","x":1.55,"y":0.845},{"p":"R","s":"c42","x":1.6,"y":0.86},{"p":"R","s":"c42","x":1.63,"y":0.88},{"p":"R","s":"c42","x":1.68,"y":0.872},{"p":"R","s":"c42","x":1.72,"y":0.885},{"p":"R","s":"c42","x":1.78,"y":0.868},{"p":"R","s":"c42","x":1.82,"y":0.866},{"p":"R","s":"c42","x":1.88,"y":0.868},{"p":"R","s":"c42","x":1.93,"y":0.87},{"p":"R","s":"c42","x":1.98,"y":0.87},{"p":"R","s":"c42","x":2.03,"y":0.868},{"p":"R","s":"c42","x":2.08,"y":0.866},{"p":"R","s":"c42","x":2.12,"y":0.86},{"p":"R","s":"c42","x":2.14,"y":0.85},{"p":"R","s":"c42","x":2.18,"y":0.915},{"p":"R","s":"c42","x":2.21,"y":0.935},{"p":"R","s":"c42","x":2.24,"y":0.954},{"p":"R","s":"c42","x":2.26,"y":0.95},
{"p":"R","s":"s42","x":0.03,"y":0.982},{"p":"R","s":"s42","x":0.105,"y":0.975},{"p":"R","s":"s42","x":0.2,"y":0.955},{"p":"R","s":"s42","x":0.27,"y":0.944},{"p":"R","s":"s42","x":0.55,"y":0.96},{"p":"R","s":"s42","x":0.85,"y":0.964},{"p":"R","s":"s42","x":1.076,"y":0.98},{"p":"R","s":"s42","x":1.28,"y":0.934},
{"p":"R","s":"s43","x":0,"y":1.074},{"p":"R","s":"s43","x":0.04,"y":1.004},{"p":"R","s":"s43","x":0.12,"y":0.984},{"p":"R","s":"s43","x":0.2,"y":0.974},{"p":"R","s":"s43","x":0.27,"y":0.968},{"p":"R","s":"s43","x":0.55,"y":1.004},{"p":"R","s":"s43","x":0.85,"y":1.008},{"p":"R","s":"s43","x":1.076,"y":1.004},{"p":"R","s":"s43","x":1.28,"y":0.968}
]
},
"spacing":0,
"resolve":{"scale":{"color":"independent","shape":"independent","fill":"independent","stroke":"independent","size":"independent","strokeWidth":"independent"}},
"vconcat":[
{
"hconcat":[
{
"width":290,"height":217,
"view":{"stroke":"#555","strokeWidth":1},
"data":{"name":"a"},
"layer":[
{"mark":{"type":"rule","strokeWidth":1},
 "encoding":{
  "x":{"field":"t","type":"quantitative","scale":{"domain":[-1.5,11.55],"nice":false,"zero":false},"axis":{"values":[0,2,4,6,8,10],"title":"Storage time/(h at 85°C)","labelFontSize":10.5,"labelColor":"#555","titleFontSize":12.5,"titleColor":"#444","titleFontWeight":"normal","tickColor":"#666","tickSize":4,"labelPadding":2,"titlePadding":5,"domain":false}},
  "y":{"field":"lo","type":"quantitative","scale":{"domain":[-0.0143,0.503],"nice":false,"zero":false},"axis":{"values":[0,0.1,0.2,0.3,0.4,0.5],"format":".1f","title":"Gas evolution /(mL g⁻¹)","labelFontSize":10.5,"labelColor":"#555","titleFontSize":12.5,"titleColor":"#444","titleFontWeight":"normal","tickColor":"#666","tickSize":4,"labelPadding":2,"titlePadding":8,"domain":false}},
  "y2":{"field":"hi"},
  "stroke":{"field":"series","type":"nominal","scale":{"domain":["Commercial NCM","NaCl 800 °C","NaCl 900 °C","NaCl 1000 °C","KCl 800 °C","KCl 900 °C","KCl 1000 °C"],"range":["#222222","#3b3f9e","#3c9b3c","#e02a2a","#7d7fd8","#6cc46c","#f07a7a"]}}
 }},
{"mark":{"type":"point","shape":"stroke","size":40,"strokeWidth":1,"filled":false},
 "encoding":{"x":{"field":"t","type":"quantitative"},"y":{"field":"lo","type":"quantitative"},"stroke":{"field":"series","type":"nominal"}}},
{"mark":{"type":"point","shape":"stroke","size":40,"strokeWidth":1,"filled":false},
 "encoding":{"x":{"field":"t","type":"quantitative"},"y":{"field":"hi","type":"quantitative"},"stroke":{"field":"series","type":"nominal"}}},
{"mark":{"type":"line","strokeWidth":1.1},
 "encoding":{"x":{"field":"t","type":"quantitative"},"y":{"field":"v","type":"quantitative"},"stroke":{"field":"series","type":"nominal"}}},
{"data":{"values":[{}]},"mark":{"type":"rect","fill":"white","stroke":"#888","strokeWidth":1},
 "encoding":{"x":{"datum":-1.455,"type":"quantitative"},"x2":{"datum":3.585},"y":{"datum":0.541,"type":"quantitative"},"y2":{"datum":0.274}}},
{"data":{"values":[{}]},"mark":{"type":"rect","fillOpacity":0,"stroke":"#111","strokeWidth":1.5},
 "encoding":{"x":{"datum":-1.365,"type":"quantitative"},"x2":{"datum":2.775},"y":{"datum":0.491,"type":"quantitative"},"y2":{"datum":0.291}}},
{"mark":{"type":"point","filled":true,"size":45,"strokeWidth":1.2,"opacity":1},
 "encoding":{
  "x":{"field":"t","type":"quantitative"},"y":{"field":"v","type":"quantitative"},
  "fill":{"field":"series","type":"nominal","scale":{"domain":["Commercial NCM","NaCl 800 °C","NaCl 900 °C","NaCl 1000 °C","KCl 800 °C","KCl 900 °C","KCl 1000 °C"],"range":["#222222","#3b3f9e","#3c9b3c","#e02a2a","white","white","white"]},"legend":{"orient":"none","legendX":14,"legendY":-5,"zindex":2,"title":null,"labelFontSize":9.5,"labelColor":{"expr":"datum.label=='Commercial NCM'?'#444444':datum.label=='NaCl 800 °C'?'#5a5c9e':datum.label=='NaCl 900 °C'?'#4d8f4d':datum.label=='NaCl 1000 °C'?'#b94a4a':datum.label=='KCl 800 °C'?'#7072b8':datum.label=='KCl 900 °C'?'#62a862':'#c86868'"},"symbolSize":30,"symbolStrokeWidth":1,"rowPadding":2.9,"padding":0,"labelOffset":10}},
  "stroke":{"field":"series","type":"nominal","legend":{"orient":"none","legendX":14,"legendY":-5,"zindex":2,"title":null,"labelFontSize":9.5,"labelColor":{"expr":"datum.label=='Commercial NCM'?'#444444':datum.label=='NaCl 800 °C'?'#5a5c9e':datum.label=='NaCl 900 °C'?'#4d8f4d':datum.label=='NaCl 1000 °C'?'#b94a4a':datum.label=='KCl 800 °C'?'#7072b8':datum.label=='KCl 900 °C'?'#62a862':'#c86868'"},"symbolSize":30,"symbolStrokeWidth":1,"rowPadding":2.9,"padding":0,"labelOffset":10}},
  "shape":{"field":"series","type":"nominal","scale":{"domain":["Commercial NCM","NaCl 800 °C","NaCl 900 °C","NaCl 1000 °C","KCl 800 °C","KCl 900 °C","KCl 1000 °C"],"range":["square","triangle-down","triangle-left","triangle-up","triangle-down","triangle-left","triangle-up"]},"legend":{"orient":"none","legendX":14,"legendY":-5,"zindex":2,"title":null,"labelFontSize":9.5,"labelColor":{"expr":"datum.label=='Commercial NCM'?'#444444':datum.label=='NaCl 800 °C'?'#5a5c9e':datum.label=='NaCl 900 °C'?'#4d8f4d':datum.label=='NaCl 1000 °C'?'#b94a4a':datum.label=='KCl 800 °C'?'#7072b8':datum.label=='KCl 900 °C'?'#62a862':'#c86868'"},"symbolSize":30,"symbolStrokeWidth":1,"rowPadding":2.9,"padding":0,"labelOffset":10}}
 }},
{"data":{"values":[{}]},"mark":{"type":"text","text":"Polycrystalline cathode","align":"left","baseline":"middle","fontSize":14.5,"color":"#111"},
 "encoding":{"x":{"datum":4.53,"type":"quantitative"},"y":{"datum":0.54,"type":"quantitative"}}},
{"data":{"values":[{}]},"mark":{"type":"text","text":"Single crystalline cathode","align":"left","baseline":"middle","fontSize":14.5,"color":"#111"},
 "encoding":{"x":{"datum":3.765,"type":"quantitative"},"y":{"datum":0.486,"type":"quantitative"}}},
{"data":{"values":[{}]},"mark":{"type":"rule","color":"#111","strokeWidth":1.2},
 "encoding":{"x":{"datum":3.585,"type":"quantitative"},"x2":{"datum":4.3},"y":{"datum":0.505,"type":"quantitative"},"y2":{"datum":0.535}}},
{"data":{"values":[{}]},"mark":{"type":"point","shape":"triangle-up","angle":53,"filled":true,"color":"#111","size":40},
 "encoding":{"x":{"datum":4.36,"type":"quantitative"},"y":{"datum":0.538,"type":"quantitative"}}},
{"data":{"values":[{}]},"mark":{"type":"rule","color":"#111","strokeWidth":1.2},
 "encoding":{"x":{"datum":2.775,"type":"quantitative"},"x2":{"datum":3.3},"y":{"datum":0.479,"type":"quantitative"}}},
{"data":{"values":[{}]},"mark":{"type":"point","shape":"triangle-right","filled":true,"color":"#111","size":40},
 "encoding":{"x":{"datum":3.42,"type":"quantitative"},"y":{"datum":0.479,"type":"quantitative"}}},
{"data":{"values":[{}]},"mark":{"type":"text","text":"(a)","align":"center","baseline":"middle","fontSize":23,"fontWeight":"bold","font":"Liberation Serif","color":"#111"},
 "encoding":{"x":{"datum":-2.9,"type":"quantitative"},"y":{"datum":0.527,"type":"quantitative"}}}
]
},
{
"width":221,"height":181,
"view":{"stroke":"#111","strokeWidth":1.5},
"layer":[
{"data":{"name":"b"},"mark":{"type":"line","strokeWidth":2.2,"clip":true},
 "encoding":{
  "x":{"field":"t","type":"quantitative","scale":{"domain":[-15,474],"nice":false,"zero":false},"axis":{"values":[50,100,150,200,250,300,350,400,450,474],"labelExpr":"datum.value==474?'500':(datum.value%100==0?datum.label:'')","title":"Time / h","labelFontSize":16,"labelFontWeight":"bold","labelColor":"#111","titleFontSize":18,"titleFontWeight":"bold","titleColor":"#111","tickSize":-5,"tickColor":"#111","labelPadding":16,"titlePadding":12,"domain":false,"labelOverlap":false,"labelFlush":false}},
  "y":{"field":"v","type":"quantitative","scale":{"domain":[-0.057,0.98],"nice":false,"zero":false},"axis":{"values":[0,0.2,0.4,0.6,0.8],"labelExpr":"round(datum.value*10)%4==0?(datum.value==0?'0':format(datum.value,'.1f')):''","title":"Scaled volume / mL","labelFontSize":18,"labelFontWeight":"bold","labelColor":"#111","titleFontSize":17,"titleFontWeight":"bold","titleColor":"#111","tickSize":-5,"tickColor":"#111","labelPadding":8,"titlePadding":18,"domain":false,"labelOverlap":false}},
  "color":{"field":"name","type":"nominal","scale":{"domain":["SC-532","AC-532"],"range":["#e8302c","#111111"]},"legend":{"orient":"none","legendX":22,"legendY":17,"title":null,"symbolType":"stroke","symbolStrokeWidth":2.5,"symbolSize":300,"labelFontSize":10.5,"labelFontWeight":"bold","labelColor":"#222","rowPadding":0,"padding":0,"labelOffset":8}},
  "detail":{"field":"k"}
 }},
{"data":{"values":[{}]},"mark":{"type":"point","opacity":0},
 "encoding":{"x":{"datum":100,"type":"quantitative","axis":{"orient":"top","values":[50,100,150,200,250,300,350,400,450],"labels":false,"title":null,"tickSize":-5,"tickColor":"#111","domain":false}},
  "y":{"datum":0.4,"type":"quantitative","axis":{"orient":"right","values":[0,0.2,0.4,0.6,0.8],"labels":false,"title":null,"tickSize":-5,"tickColor":"#111","domain":false}}}},
{"data":{"values":[{}]},"mark":{"type":"text","text":"(b)","align":"center","baseline":"middle","fontSize":23,"fontWeight":"bold","font":"Liberation Serif","color":"#111"},
 "encoding":{"x":{"datum":-154,"type":"quantitative","axis":null},"y":{"datum":1.029,"type":"quantitative","axis":null}}}
],
"resolve":{"axis":{"x":"independent","y":"independent"}}
}
],
"spacing":93,
"bounds":"flush",
"resolve":{"scale":{"color":"independent","shape":"independent","fill":"independent","stroke":"independent"}}
},
{
"columns":3,
"spacing":0,
"bounds":"flush",
"resolve":{"scale":{"color":"independent","shape":"independent","size":"independent","strokeWidth":"independent"}},
"concat":[
{"width":140,"height":150,"view":{"stroke":null},"data":{"values":[{}]},"mark":{"type":"text"},"encoding":{"text":{"value":""}}},
{"width":224,"height":150,
 "layer":[
 {"data":{"name":"r1"},"transform":[{"filter":"datum.p=='L'"}],"mark":{"type":"point","filled":false},
  "encoding":{
   "x":{"field":"x","type":"quantitative","scale":{"domain":[0,2.59],"nice":false,"zero":false},"axis":{"values":[0,0.5,1,1.5,2,2.5],"labels":false,"title":null,"tickSize":-5,"tickColor":"#111","domain":false}},
   "y":{"field":"y","type":"quantitative","scale":{"domain":[0.781,1.12],"nice":false,"zero":false},"axis":{"values":[0.8,0.9,1,1.1],"format":".1~f","title":"Norm. Cap.","labelFontSize":13.5,"labelFontWeight":"bold","labelColor":"#111","titleFontSize":12.5,"titleFontWeight":"bold","titleColor":"#111","tickSize":-5,"tickColor":"#111","labelPadding":8,"titlePadding":3,"domain":false}},
   "color":{"field":"s","type":"nominal","scale":{"domain":["c42","c43","s42","s43"],"range":["#ea4a48","#4b4fb0","#e62e2b","#2a2e96"]},"legend":{"orient":"none","legendX":-185,"legendY":19,"title":null,"labelFontSize":12.5,"labelFontWeight":"bold","labelColor":{"expr":"datum.value=='c42'||datum.value=='s42'?'#e8302c':'#2e3192'"},"labelExpr":"datum.value=='c42'?'64064 4.2 V cycling':datum.value=='c43'?'64065 4.3 V cycling':datum.value=='s42'?'82432 4.2 V storage':'82433 4.3 V storage'","symbolSize":30,"symbolStrokeWidth":1.5,"rowPadding":1.8,"padding":0,"labelOffset":8}},
   "shape":{"field":"s","type":"nominal","scale":{"domain":["c42","c43","s42","s43"],"range":["circle","circle","M-1,-1L1,1M-1,1L1,-1","M-1,-1L1,1M-1,1L1,-1"]},"legend":{"orient":"none","legendX":-185,"legendY":19,"title":null,"labelFontSize":12.5,"labelFontWeight":"bold","labelColor":{"expr":"datum.value=='c42'||datum.value=='s42'?'#e8302c':'#2e3192'"},"labelExpr":"datum.value=='c42'?'64064 4.2 V cycling':datum.value=='c43'?'64065 4.3 V cycling':datum.value=='s42'?'82432 4.2 V storage':'82433 4.3 V storage'","symbolSize":30,"symbolStrokeWidth":1.5,"rowPadding":1.8,"padding":0,"labelOffset":8}},
   "size":{"field":"s","type":"ordinal","scale":{"domain":["c42","c43","s42","s43"],"range":[20,20,48,48]},"legend":null},
   "strokeWidth":{"field":"s","type":"ordinal","scale":{"domain":["c42","c43","s42","s43"],"range":[1,1,2.2,2.2]},"legend":null}
  }},
 {"data":{"values":[{}]},"mark":{"type":"text","text":"2VC+1DTD","align":"left","baseline":"middle","fontSize":14,"fontWeight":"bold","color":"#111"},"encoding":{"x":{"datum":0.2,"type":"quantitative"},"y":{"datum":1.084,"type":"quantitative"}}},
 {"data":{"values":[{}]},"mark":{"type":"text","text":"55°C C/3:C/3","align":"right","baseline":"middle","fontSize":14,"fontWeight":"bold","color":"#111"},"encoding":{"x":{"datum":2.508,"type":"quantitative"},"y":{"datum":1.084,"type":"quantitative"}}},
 {"data":{"values":[{}]},"mark":{"type":"text","text":"2500 cycles","align":"right","baseline":"middle","fontSize":11.5,"fontWeight":"bold","color":"#e8302c"},"encoding":{"x":{"datum":2.393,"type":"quantitative"},"y":{"datum":0.833,"type":"quantitative"}}},
 {"data":{"values":[{}]},"mark":{"type":"text","text":"2500 cycles","align":"right","baseline":"middle","fontSize":11.5,"fontWeight":"bold","color":"#2e3192"},"encoding":{"x":{"datum":2.45,"type":"quantitative"},"y":{"datum":0.806,"type":"quantitative"}}},
 {"data":{"values":[{}]},"mark":{"type":"text","text":"(c)","align":"center","baseline":"middle","fontSize":23,"fontWeight":"bold","font":"Liberation Serif","color":"#111"},"encoding":{"x":{"datum":-1.99,"type":"quantitative"},"y":{"datum":1.12,"type":"quantitative"}}}
 ]},
{"width":225,"height":150,
 "data":{"name":"r1"},"transform":[{"filter":"datum.p=='R'"}],"mark":{"type":"point","filled":false},
  "encoding":{
   "x":{"field":"x","type":"quantitative","scale":{"domain":[0,2.61],"nice":false,"zero":false},"axis":{"values":[0,0.5,1,1.5,2,2.5],"labels":false,"title":null,"tickSize":-5,"tickColor":"#111","domain":false}},
   "y":{"field":"y","type":"quantitative","scale":{"domain":[0.685,1.58],"nice":false,"zero":false},"axis":{"orient":"right","values":[0.7,0.8,0.9,1,1.1,1.2,1.3,1.4,1.5],"labelExpr":"round(datum.value*10)%2==0?format(datum.value,'.1~f'):''","title":"( ΔV/ΔV₀ )/V","titleAngle":270,"labelFontSize":12,"labelFontWeight":"bold","labelColor":"#111","titleFontSize":11,"titleFontWeight":"bold","titleColor":"#333","tickSize":-5,"tickColor":"#111","labelPadding":10,"titlePadding":5,"domain":false}},
   "color":{"field":"s","type":"nominal","scale":{"domain":["c42","c43","s42","s43"],"range":["#ea4a48","#4b4fb0","#e62e2b","#2a2e96"]},"legend":null},
   "shape":{"field":"s","type":"nominal","scale":{"domain":["c42","c43","s42","s43"],"range":["circle","circle","M-1,-1L1,1M-1,1L1,-1","M-1,-1L1,1M-1,1L1,-1"]},"legend":null},
   "size":{"field":"s","type":"ordinal","scale":{"domain":["c42","c43","s42","s43"],"range":[20,20,48,48]},"legend":null},
   "strokeWidth":{"field":"s","type":"ordinal","scale":{"domain":["c42","c43","s42","s43"],"range":[1,1,2.2,2.2]},"legend":null}
  }},
{"width":140,"height":150,"view":{"stroke":null},"data":{"values":[{}]},"mark":{"type":"text"},"encoding":{"text":{"value":""}}},
{"width":224,"height":150,
 "layer":[
 {"data":{"name":"r2"},"transform":[{"filter":"datum.p=='L'"}],"mark":{"type":"point","filled":false},
  "encoding":{
   "x":{"field":"x","type":"quantitative","scale":{"domain":[0,2.59],"nice":false,"zero":false},"axis":{"values":[0,0.5,1,1.5,2,2.5],"labels":false,"title":null,"tickSize":-5,"tickColor":"#111","domain":false}},
   "y":{"field":"y","type":"quantitative","scale":{"domain":[0.781,1.12],"nice":false,"zero":false},"axis":{"values":[0.8,0.9,1,1.1],"format":".1~f","title":"Norm. Cap.","labelFontSize":13.5,"labelFontWeight":"bold","labelColor":"#111","titleFontSize":12.5,"titleFontWeight":"bold","titleColor":"#111","tickSize":-5,"tickColor":"#111","labelPadding":8,"titlePadding":3,"domain":false}},
   "color":{"field":"s","type":"nominal","scale":{"domain":["c42","c43","s42","s43"],"range":["#ea4a48","#4b4fb0","#e62e2b","#2a2e96"]},"legend":{"orient":"none","legendX":-185,"legendY":18,"title":null,"labelFontSize":12.5,"labelFontWeight":"bold","labelColor":{"expr":"datum.value=='c42'||datum.value=='s42'?'#e8302c':'#2e3192'"},"labelExpr":"datum.value=='c42'?'64106 4.2 V cycling':datum.value=='c43'?'54276 4.3 V cycling':datum.value=='s42'?'82437 4.2 V storage':'82438 4.3 V storage'","symbolSize":30,"symbolStrokeWidth":1.5,"rowPadding":1.8,"padding":0,"labelOffset":8}},
   "shape":{"field":"s","type":"nominal","scale":{"domain":["c42","c43","s42","s43"],"range":["circle","circle","M-1,-1L1,1M-1,1L1,-1","M-1,-1L1,1M-1,1L1,-1"]},"legend":{"orient":"none","legendX":-185,"legendY":18,"title":null,"labelFontSize":12.5,"labelFontWeight":"bold","labelColor":{"expr":"datum.value=='c42'||datum.value=='s42'?'#e8302c':'#2e3192'"},"labelExpr":"datum.value=='c42'?'64106 4.2 V cycling':datum.value=='c43'?'54276 4.3 V cycling':datum.value=='s42'?'82437 4.2 V storage':'82438 4.3 V storage'","symbolSize":30,"symbolStrokeWidth":1.5,"rowPadding":1.8,"padding":0,"labelOffset":8}},
   "size":{"field":"s","type":"ordinal","scale":{"domain":["c42","c43","s42","s43"],"range":[20,20,48,48]},"legend":null},
   "strokeWidth":{"field":"s","type":"ordinal","scale":{"domain":["c42","c43","s42","s43"],"range":[1,1,2.2,2.2]},"legend":null}
  }},
 {"data":{"values":[{}]},"mark":{"type":"text","text":"2VC+1DTD","align":"left","baseline":"middle","fontSize":14,"fontWeight":"bold","color":"#111"},"encoding":{"x":{"datum":0.2,"type":"quantitative"},"y":{"datum":1.084,"type":"quantitative"}}},
 {"data":{"values":[{}]},"mark":{"type":"text","text":"40°C C/3:C/3","align":"right","baseline":"middle","fontSize":14,"fontWeight":"bold","color":"#111"},"encoding":{"x":{"datum":2.508,"type":"quantitative"},"y":{"datum":1.084,"type":"quantitative"}}},
 {"data":{"values":[{}]},"mark":{"type":"text","text":"3700 cycles","align":"right","baseline":"middle","fontSize":11.5,"fontWeight":"bold","color":"#2e3192"},"encoding":{"x":{"datum":2.566,"type":"quantitative"},"y":{"datum":0.926,"type":"quantitative"}}},
 {"data":{"values":[{}]},"mark":{"type":"text","text":"3200 cycles","align":"right","baseline":"middle","fontSize":11.5,"fontWeight":"bold","color":"#e8302c"},"encoding":{"x":{"datum":2.566,"type":"quantitative"},"y":{"datum":0.851,"type":"quantitative"}}}
 ]},
{"width":225,"height":150,
 "data":{"name":"r2"},"transform":[{"filter":"datum.p=='R'"}],"mark":{"type":"point","filled":false},
  "encoding":{
   "x":{"field":"x","type":"quantitative","scale":{"domain":[0,2.61],"nice":false,"zero":false},"axis":{"values":[0,0.5,1,1.5,2,2.5],"labels":false,"title":null,"tickSize":-5,"tickColor":"#111","domain":false}},
   "y":{"field":"y","type":"quantitative","scale":{"domain":[0.685,1.58],"nice":false,"zero":false},"axis":{"orient":"right","values":[0.7,0.8,0.9,1,1.1,1.2,1.3,1.4,1.5],"labelExpr":"round(datum.value*10)%2==0?format(datum.value,'.1~f'):''","title":"( ΔV/ΔV₀ )/V","titleAngle":270,"labelFontSize":12,"labelFontWeight":"bold","labelColor":"#111","titleFontSize":11,"titleFontWeight":"bold","titleColor":"#333","tickSize":-5,"tickColor":"#111","labelPadding":10,"titlePadding":5,"domain":false}},
   "color":{"field":"s","type":"nominal","scale":{"domain":["c42","c43","s42","s43"],"range":["#ea4a48","#4b4fb0","#e62e2b","#2a2e96"]},"legend":null},
   "shape":{"field":"s","type":"nominal","scale":{"domain":["c42","c43","s42","s43"],"range":["circle","circle","M-1,-1L1,1M-1,1L1,-1","M-1,-1L1,1M-1,1L1,-1"]},"legend":null},
   "size":{"field":"s","type":"ordinal","scale":{"domain":["c42","c43","s42","s43"],"range":[20,20,48,48]},"legend":null},
   "strokeWidth":{"field":"s","type":"ordinal","scale":{"domain":["c42","c43","s42","s43"],"range":[1,1,2.2,2.2]},"legend":null}
  }},
{"width":140,"height":150,"view":{"stroke":null},"data":{"values":[{}]},"mark":{"type":"text"},"encoding":{"text":{"value":""}}},
{"width":224,"height":150,
 "layer":[
 {"data":{"name":"r3"},"transform":[{"filter":"datum.p=='L'"}],"mark":{"type":"point","filled":false},
  "encoding":{
   "x":{"field":"x","type":"quantitative","scale":{"domain":[0,2.59],"nice":false,"zero":false},"axis":{"values":[0,0.5,1,1.5,2,2.5],"labelExpr":"datum.value%1==0?format(datum.value,'d'):''","title":"Time /year","labelFontSize":13.5,"labelFontWeight":"bold","labelColor":"#111","titleFontSize":12.5,"titleFontWeight":"bold","titleColor":"#111","tickSize":-5,"tickColor":"#111","labelPadding":8,"titlePadding":2,"domain":false}},
   "y":{"field":"y","type":"quantitative","scale":{"domain":[0.781,1.12],"nice":false,"zero":false},"axis":{"values":[0.8,0.9,1,1.1],"format":".1~f","title":"Norm. Cap.","labelFontSize":13.5,"labelFontWeight":"bold","labelColor":"#111","titleFontSize":12.5,"titleFontWeight":"bold","titleColor":"#111","tickSize":-5,"tickColor":"#111","labelPadding":8,"titlePadding":3,"domain":false}},
   "color":{"field":"s","type":"nominal","scale":{"domain":["c42","c43","s42","s43"],"range":["#ea4a48","#4b4fb0","#e62e2b","#2a2e96"]},"legend":{"orient":"none","legendX":-185,"legendY":17,"title":null,"labelFontSize":12.5,"labelFontWeight":"bold","labelColor":{"expr":"datum.value=='c42'||datum.value=='s42'?'#e8302c':'#2e3192'"},"labelExpr":"datum.value=='c42'?'64224 4.2 V cycling':datum.value=='c43'?'64225 4.3 V cycling':datum.value=='s42'?'82442 4.2 V storage':'82443 4.3 V storage'","symbolSize":30,"symbolStrokeWidth":1.5,"rowPadding":1.8,"padding":0,"labelOffset":8}},
   "shape":{"field":"s","type":"nominal","scale":{"domain":["c42","c43","s42","s43"],"range":["circle","circle","M-1,-1L1,1M-1,1L1,-1","M-1,-1L1,1M-1,1L1,-1"]},"legend":{"orient":"none","legendX":-185,"legendY":17,"title":null,"labelFontSize":12.5,"labelFontWeight":"bold","labelColor":{"expr":"datum.value=='c42'||datum.value=='s42'?'#e8302c':'#2e3192'"},"labelExpr":"datum.value=='c42'?'64224 4.2 V cycling':datum.value=='c43'?'64225 4.3 V cycling':datum.value=='s42'?'82442 4.2 V storage':'82443 4.3 V storage'","symbolSize":30,"symbolStrokeWidth":1.5,"rowPadding":1.8,"padding":0,"labelOffset":8}},
   "size":{"field":"s","type":"ordinal","scale":{"domain":["c42","c43","s42","s43"],"range":[20,20,48,48]},"legend":null},
   "strokeWidth":{"field":"s","type":"ordinal","scale":{"domain":["c42","c43","s42","s43"],"range":[1,1,2.2,2.2]},"legend":null}
  }},
 {"data":{"values":[{}]},"mark":{"type":"text","text":"2VC+1DTD","align":"left","baseline":"middle","fontSize":14,"fontWeight":"bold","color":"#111"},"encoding":{"x":{"datum":0.2,"type":"quantitative"},"y":{"datum":1.084,"type":"quantitative"}}},
 {"data":{"values":[{}]},"mark":{"type":"text","text":"20°C C/3:C/3","align":"right","baseline":"middle","fontSize":14,"fontWeight":"bold","color":"#111"},"encoding":{"x":{"datum":2.508,"type":"quantitative"},"y":{"datum":1.084,"type":"quantitative"}}},
 {"data":{"values":[{}]},"mark":{"type":"text","text":"3400 cycles","align":"right","baseline":"middle","fontSize":11.5,"fontWeight":"bold","color":"#e8302c"},"encoding":{"x":{"datum":2.543,"type":"quantitative"},"y":{"datum":0.914,"type":"quantitative"}}},
 {"data":{"values":[{}]},"mark":{"type":"text","text":"3400 cycles","align":"right","baseline":"middle","fontSize":11.5,"fontWeight":"bold","color":"#2e3192"},"encoding":{"x":{"datum":2.543,"type":"quantitative"},"y":{"datum":0.873,"type":"quantitative"}}}
 ]},
{"width":225,"height":150,
 "data":{"name":"r3"},"transform":[{"filter":"datum.p=='R'"}],"mark":{"type":"point","filled":false},
  "encoding":{
   "x":{"field":"x","type":"quantitative","scale":{"domain":[0,2.61],"nice":false,"zero":false},"axis":{"values":[0,0.5,1,1.5,2,2.5],"labelExpr":"datum.value%1==0?format(datum.value,'d'):''","title":"Time /year","labelFontSize":13.5,"labelFontWeight":"bold","labelColor":"#111","titleFontSize":12.5,"titleFontWeight":"bold","titleColor":"#111","tickSize":-5,"tickColor":"#111","labelPadding":8,"titlePadding":2,"domain":false}},
   "y":{"field":"y","type":"quantitative","scale":{"domain":[0.685,1.58],"nice":false,"zero":false},"axis":{"orient":"right","values":[0.7,0.8,0.9,1,1.1,1.2,1.3,1.4,1.5],"labelExpr":"round(datum.value*10)%2==0?format(datum.value,'.1~f'):''","title":"( ΔV/ΔV₀ )/V","titleAngle":270,"labelFontSize":12,"labelFontWeight":"bold","labelColor":"#111","titleFontSize":11,"titleFontWeight":"bold","titleColor":"#333","tickSize":-5,"tickColor":"#111","labelPadding":10,"titlePadding":5,"domain":false}},
   "color":{"field":"s","type":"nominal","scale":{"domain":["c42","c43","s42","s43"],"range":["#ea4a48","#4b4fb0","#e62e2b","#2a2e96"]},"legend":null},
   "shape":{"field":"s","type":"nominal","scale":{"domain":["c42","c43","s42","s43"],"range":["circle","circle","M-1,-1L1,1M-1,1L1,-1","M-1,-1L1,1M-1,1L1,-1"]},"legend":null},
   "size":{"field":"s","type":"ordinal","scale":{"domain":["c42","c43","s42","s43"],"range":[20,20,48,48]},"legend":null},
   "strokeWidth":{"field":"s","type":"ordinal","scale":{"domain":["c42","c43","s42","s43"],"range":[1,1,2.2,2.2]},"legend":null}
  }}
]
}
]
}
